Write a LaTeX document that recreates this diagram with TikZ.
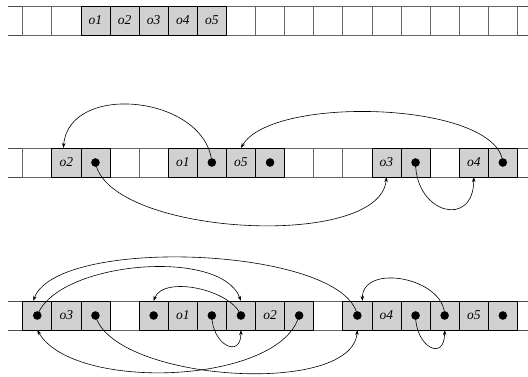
\documentclass[tikz,border=0pt]{standalone}
\usepackage{fontspec}
\setmainfont{Liberation Serif}
\usetikzlibrary{arrows.meta}

\begin{document}
\begin{tikzpicture}[x=1pt,y=1pt,>={Stealth[length=5pt,width=3.5pt]},
        cell/.style={draw=black!60,line width=.8pt,minimum size=29.1pt,inner sep=0pt,outer sep=0pt},
        obj/.style={cell,draw=black,fill=black!18,font=\fontsize{13.5}{15}\itshape},
        rail/.style={black!70,line width=.8pt},
        ptr/.style={->,line width=.6pt}]
        \useasboundingbox (0,0) rectangle (528,376);

        % three rows of cells
        \foreach \r/\y in {t/355.5,m/213.5,b/60.5}{
            \draw[rail] (8,\y-14.55)--(528,\y-14.55);
            \draw[rail] (8,\y+14.55)--(528,\y+14.55);
            \foreach \i in {0,...,16}
                \node[cell] (\r\i) at (37.25+29.1*\i,\y) {};
        }

        % objects
        \foreach \i/\t in {2/o1,3/o2,4/o3,5/o4,6/o5}
            \node[obj] (t\i) at (t\i) {\t};
        \foreach \i/\t in {1/o2,2/,5/o1,6/,7/o5,8/,12/o3,13/,15/o4,16/}
            \node[obj] (m\i) at (m\i) {\t};
        \foreach \i/\t in {0/,1/o3,2/,4/,5/o1,6/,7/,8/o2,9/,11/,12/o4,13/,14/,15/o5,16/}
            \node[obj] (b\i) at (b\i) {\t};

        % pointers
        \foreach \c in {m2,m6,m8,m13,m16,b0,b2,b4,b6,b7,b9,b11,b13,b14,b16}
            \fill (\c) circle (4.3);

        \draw[ptr] (m6.center) to[out=95,in=85,looseness=1.15] ([xshift=-3pt]m1.north);
        \draw[ptr] (m16.center) to[out=95,in=60,looseness=.6] (m7.north);
        \draw[ptr] (m2.center) to[out=-80,in=-95,looseness=.65] (m12.south);
        \draw[ptr] (m13.center) to[out=-90,in=-90,looseness=2.2] (m15.south);

        \draw[ptr] (b11.center) to[out=100,in=70,looseness=.55] ([xshift=-4pt]b0.north);
        \draw[ptr] (b0.center) to[out=70,in=110,looseness=.72] (b7.north);
        \draw[ptr] (b7.center) to[out=110,in=70,looseness=.8] (b4.north);
        \draw[ptr] (b6.center) to[out=-90,in=-90,looseness=2.3] (b7.south);
        \draw[ptr] (b2.center) to[out=-75,in=-95,looseness=.66] (b11.south);
        \draw[ptr] (b9.center) to[out=-105,in=-60,looseness=.7] (b0.south);
        \draw[ptr] (b14.center) to[out=90,in=90,looseness=1.17] ([xshift=5pt]b11.north);
        \draw[ptr] (b13.center) to[out=-90,in=-90,looseness=2.5] (b14.south);

    \end{tikzpicture}
\end{document}
